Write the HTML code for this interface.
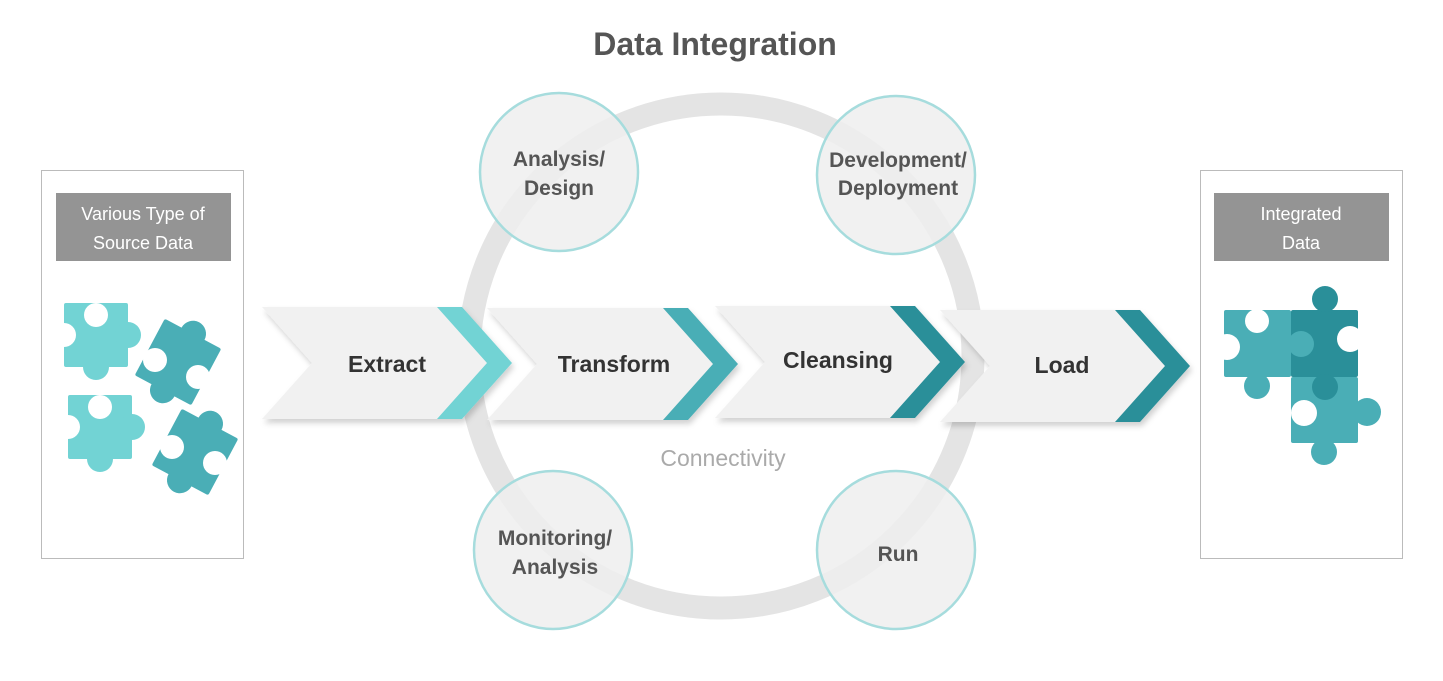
<!DOCTYPE html>
<html><head><meta charset="utf-8"><style>
body{margin:0;background:#fff;width:1443px;height:681px;overflow:hidden}
svg{display:block}
text{font-family:"Liberation Sans",sans-serif}
</style></head><body>
<svg width="1443" height="681" viewBox="0 0 1443 681">
<defs>
<filter id="sh" x="-10%" y="-10%" width="130%" height="140%"><feDropShadow dx="2" dy="4" stdDeviation="3" flood-color="#000" flood-opacity="0.18"/></filter>
</defs>
<text x="715" y="55" text-anchor="middle" font-size="32" font-weight="bold" fill="#555">Data Integration</text>
<circle cx="721" cy="356" r="252" fill="none" stroke="#e4e4e4" stroke-width="23"/>
<g fill="#efefef" fill-opacity="0.85" stroke="#a6dcdd" stroke-width="2.5">
<circle cx="559" cy="172" r="79"/><circle cx="896" cy="175" r="79"/>
<circle cx="553" cy="550" r="79"/><circle cx="896" cy="550" r="79"/>
</g>
<g font-size="21" font-weight="bold" fill="#555" text-anchor="middle">
<text x="559" y="166">Analysis/</text><text x="559" y="195">Design</text>
<text x="898" y="167">Development/</text><text x="898" y="195">Deployment</text>
<text x="555" y="545">Monitoring/</text><text x="555" y="574">Analysis</text>
<text x="898" y="561">Run</text>
</g>
<text x="723" y="466" text-anchor="middle" font-size="23" fill="#aaa">Connectivity</text>
<!-- chevrons -->
<g filter="url(#sh)">
<polygon points="262,307 437,307 512,363 437,419 262,419 312,363" fill="#f1f1f1"/>
<polygon points="437,307 462,307 512,363 462,419 437,419 487,363" fill="#72d3d4"/>
</g>
<g filter="url(#sh)">
<polygon points="487,308 663,308 738,364 663,420 487,420 537,364" fill="#f1f1f1"/>
<polygon points="663,308 688,308 738,364 688,420 663,420 713,364" fill="#4aaeb6"/>
</g>
<g filter="url(#sh)">
<polygon points="715,306 890,306 965,362 890,418 715,418 765,362" fill="#f1f1f1"/>
<polygon points="890,306 915,306 965,362 915,418 890,418 940,362" fill="#2a8f99"/>
</g>
<g filter="url(#sh)">
<polygon points="940,310 1115,310 1190,366 1115,422 940,422 990,366" fill="#f1f1f1"/>
<polygon points="1115,310 1140,310 1190,366 1140,422 1115,422 1165,366" fill="#2a8f99"/>
</g>
<g font-size="23" font-weight="bold" fill="#333" text-anchor="middle">
<text x="387" y="372">Extract</text><text x="614" y="372">Transform</text>
<text x="838" y="368">Cleansing</text><text x="1062" y="373">Load</text>
</g>
<!-- left panel -->
<rect x="41.5" y="170.5" width="202" height="388" fill="none" stroke="#bbb"/>
<rect x="56" y="193" width="175" height="68" fill="#949494"/>
<text x="143" y="220" text-anchor="middle" font-size="18" fill="#fff">Various Type of</text>
<text x="143" y="249" text-anchor="middle" font-size="18" fill="#fff">Source Data</text>
<g fill="#72d3d4">
<rect x="64" y="303" width="64" height="64" rx="2"/><circle cx="96" cy="367" r="13"/><circle cx="128" cy="335" r="13"/>
<rect x="68" y="395" width="64" height="64" rx="2"/><circle cx="100" cy="459" r="13"/><circle cx="132" cy="427" r="13"/>
</g>
<g fill="#fff"><circle cx="96" cy="315" r="12"/><circle cx="64" cy="335" r="12"/><circle cx="100" cy="407" r="12"/><circle cx="68" cy="427" r="12"/></g>
<g fill="#4aaeb6">
<g transform="rotate(28 178 362)"><rect x="146" y="330" width="64" height="64" rx="2"/><circle cx="178" cy="330" r="13"/><circle cx="178" cy="394" r="13"/></g>
<g transform="rotate(28 195 452)"><rect x="163" y="420" width="64" height="64" rx="2"/><circle cx="195" cy="420" r="13"/><circle cx="195" cy="484" r="13"/></g>
</g>
<g fill="#fff"><circle cx="155" cy="360" r="12"/><circle cx="198" cy="377" r="12"/><circle cx="172" cy="447" r="12"/><circle cx="215" cy="463" r="12"/></g>
<!-- right panel -->
<rect x="1200.5" y="170.5" width="202" height="388" fill="none" stroke="#bbb"/>
<rect x="1214" y="193" width="175" height="68" fill="#949494"/>
<text x="1301" y="220" text-anchor="middle" font-size="18" fill="#fff">Integrated</text>
<text x="1301" y="249" text-anchor="middle" font-size="18" fill="#fff">Data</text>
<g fill="#4aaeb6">
<rect x="1224" y="310" width="67" height="67" rx="2"/><circle cx="1257" cy="386" r="13"/>
<rect x="1291" y="377" width="67" height="66" rx="2"/><circle cx="1324" cy="452" r="13"/><circle cx="1367" cy="412" r="14"/>
</g>
<g fill="#2a8f99"><rect x="1291" y="310" width="67" height="67" rx="2"/><circle cx="1325" cy="299" r="13"/><circle cx="1325" cy="387" r="13"/></g>
<circle cx="1301" cy="344" r="13" fill="#4aaeb6"/>
<g fill="#fff"><circle cx="1257" cy="321" r="12"/><circle cx="1227" cy="347" r="13"/><circle cx="1350" cy="339" r="13"/><circle cx="1304" cy="413" r="13"/></g>
</svg>
</body></html>
